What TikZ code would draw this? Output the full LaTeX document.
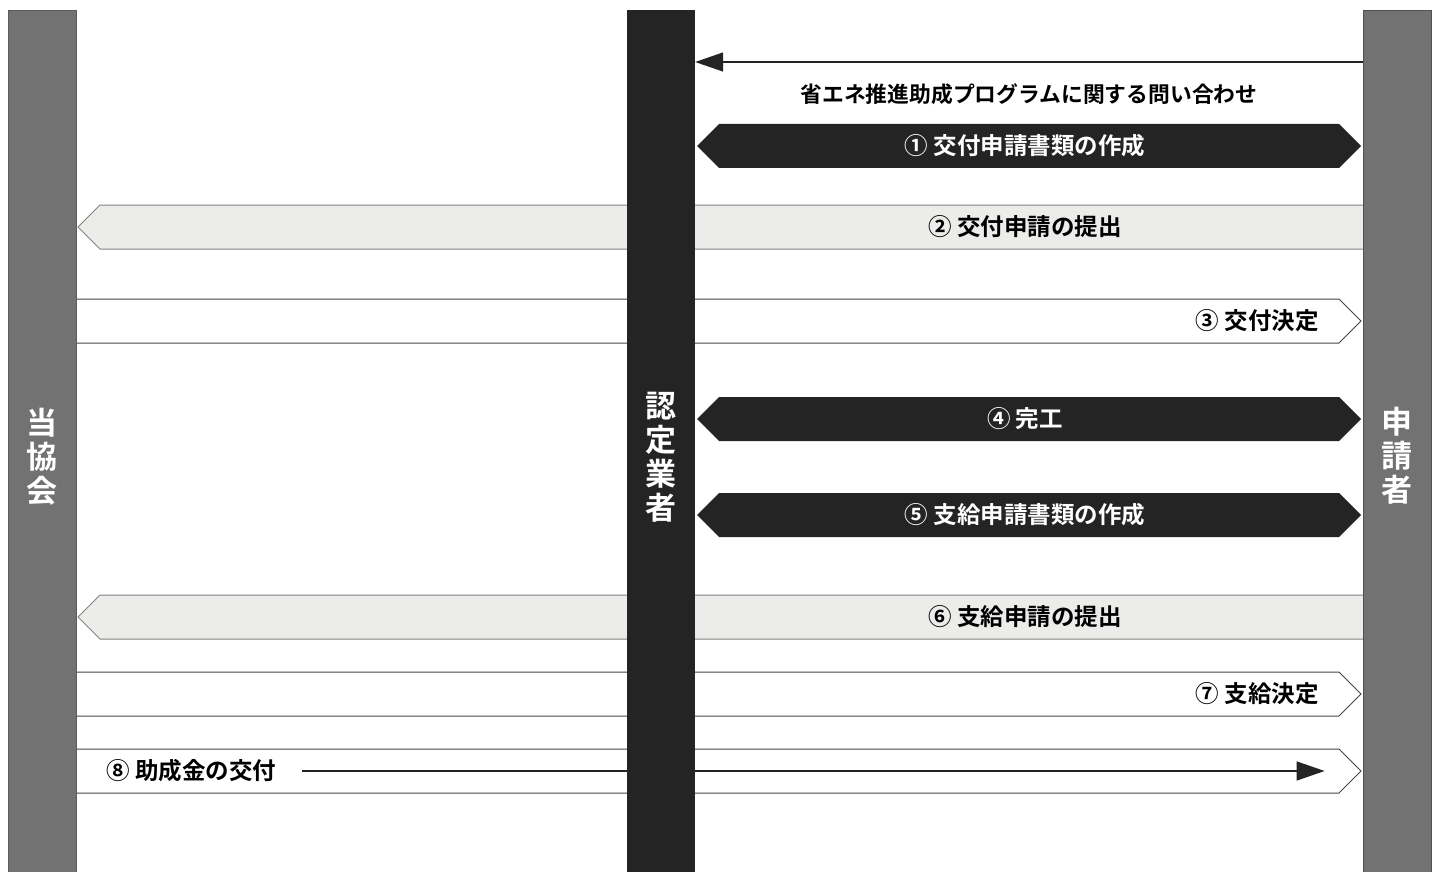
\documentclass[tikz,border=0pt]{standalone}
\usepackage{fontspec}
\setmainfont{Noto Sans CJK JP}[BoldFont={Noto Sans CJK JP Bold}]
\usetikzlibrary{arrows.meta, backgrounds}
\definecolor{laneGray}{HTML}{717271}
\definecolor{laneDark}{HTML}{242424}
\definecolor{bandGray}{HTML}{ECECEA}
\definecolor{bandLine}{HTML}{85827F}
\begin{document}
\begin{tikzpicture}[x=1pt, y=-1pt,
  lane/.style={rectangle, fill=#1, minimum width=68pt, minimum height=862pt,
               inner sep=0pt},
  lane/.default={laneGray},
  lanetxt/.style={text=white, align=center, inner sep=0pt,
                  font=\fontsize{31}{34}\selectfont\bfseries},
  darkband/.style={fill=laneDark},
  greyband/.style={fill=bandGray, draw=bandLine, line width=1pt},
  whiteband/.style={fill=white, draw=laneDark!85, line width=1pt},
  lbl/.style={font=\fontsize{23.5}{26}\selectfont\bfseries, inner sep=0pt},
  arr/.style={-{Triangle[length=28pt, width=19pt]}, line width=1.4pt, draw=laneDark}
]
  \useasboundingbox (0,0) rectangle (1438,872);

  % Spalten
  \node[lane, draw=laneGray!80!black, line width=0.8pt] (kyokai) at (42,441) {};
  \node[lane=laneDark] (gyosha) at (661,441) {};
  \node[lane, draw=laneGray!70!black, line width=0.8pt] (shinsei) at (1397,441) {};
  \node[lanetxt] (kyokaiTxt) at ([yshift=-16pt]kyokai.center) {当\\協\\会};
  \node[lanetxt] (gyoshaTxt) at ([yshift=-16pt]gyosha.center) {認\\定\\業\\者};
  \node[lanetxt] (shinseiTxt) at ([yshift=-15pt]shinsei.center) {申\\請\\者};

  % Anfrage
  \draw[arr] (shinsei.west |- 0,62) -- (gyosha.east |- 0,62);
  \node[lbl, font=\fontsize{21.8}{24}\selectfont\bfseries] (toi) at (1029,94)
    {省エネ推進助成プログラムに関する問い合わせ};

  \begin{pgfonlayer}{background}
    % Schwarze Baender (beidseitig)
    \foreach \y/\txt in {146/{① 交付申請書類の作成}, 419/{④ 完工}, 515/{⑤ 支給申請書類の作成}} {
      \fill[darkband] (697,\y) -- (719,\y-22) -- (1339,\y-22) -- (1361,\y)
        -- (1339,\y+22) -- (719,\y+22) -- cycle;
      \node[lbl, text=white] (b\y) at (1025,\y) {\txt};
    }

    % Einreichung (nach links)
    \foreach \y/\txt in {227/{② 交付申請の提出}, 617/{⑥ 支給申請の提出}} {
      \filldraw[greyband] (1380,\y-22) -- (100,\y-22) -- (78,\y)
        -- (100,\y+22) -- (1380,\y+22);
      \node[lbl] (g\y) at (1025,\y) {\txt};
    }

    % Entscheid (nach rechts)
    \foreach \y/\txt in {321/{③ 交付決定}, 694/{⑦ 支給決定}, 771/{}} {
      \filldraw[whiteband] (60,\y-22) -- (1339,\y-22) -- (1361,\y)
        -- (1339,\y+22) -- (60,\y+22);
      \node[lbl, anchor=east] (w\y) at (1319,\y) {\txt};
    }

    % Auszahlung
    \node[lbl, anchor=west] (kofu) at (106,771) {⑧ 助成金の交付};
    \draw[arr] ([xshift=26pt]kofu.east) -- ([xshift=-38pt]shinsei.west |- kofu);
  \end{pgfonlayer}
\end{tikzpicture}
\end{document}
